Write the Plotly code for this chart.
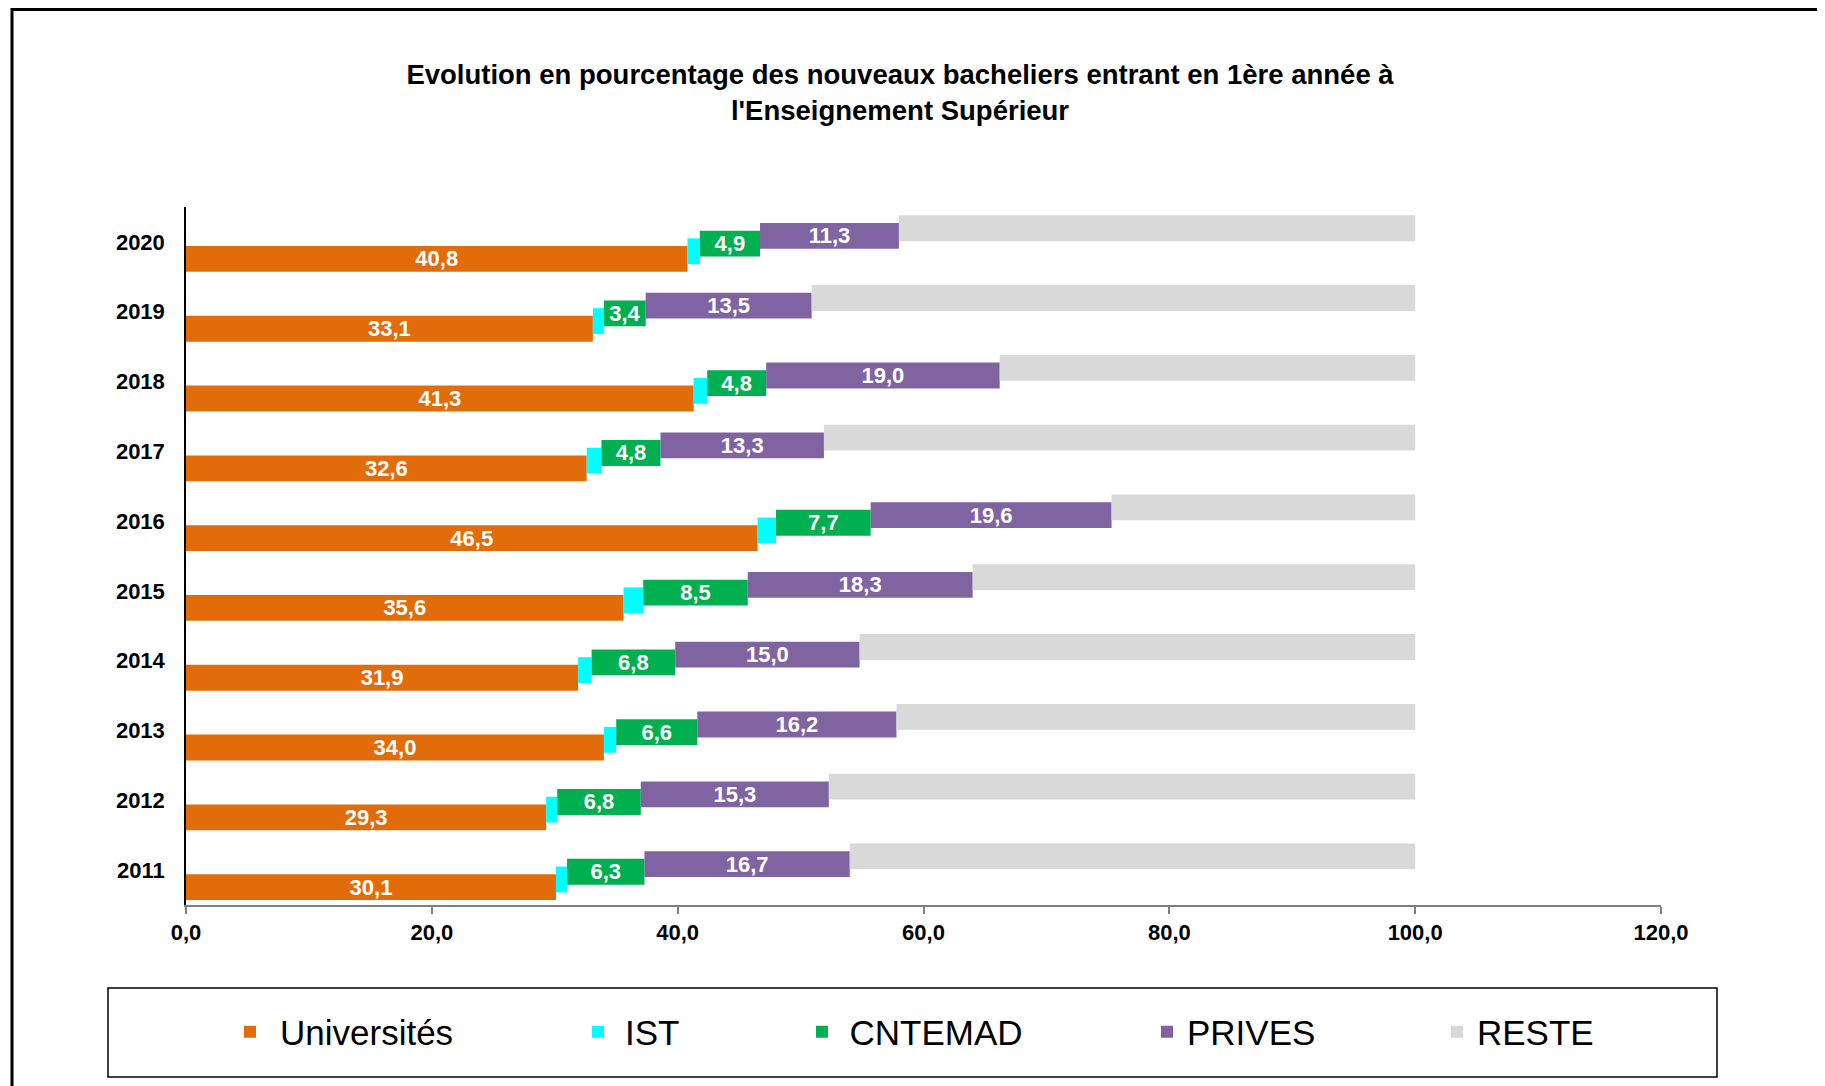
import plotly.graph_objects as go

# ---------------- data ----------------
years = ["2011", "2012", "2013", "2014", "2015", "2016", "2017", "2018", "2019", "2020"]
universites = [30.1, 29.3, 34.0, 31.9, 35.6, 46.5, 32.6, 41.3, 33.1, 40.8]
ist = [0.9, 0.9, 1.0, 1.1, 1.6, 1.5, 1.2, 1.1, 0.9, 1.0]
cntemad = [6.3, 6.8, 6.6, 6.8, 8.5, 7.7, 4.8, 4.8, 3.4, 4.9]
prives = [16.7, 15.3, 16.2, 15.0, 18.3, 19.6, 13.3, 19.0, 13.5, 11.3]
reste = [46.0, 47.7, 42.2, 45.2, 36.0, 24.7, 48.1, 33.8, 49.1, 42.0]
x_ticks = [0, 20, 40, 60, 80, 100, 120]

series_names = ["Universités", "IST", "CNTEMAD", "PRIVES", "RESTE"]
series_values = [universites, ist, cntemad, prives, reste]
series_colors = ["#E36C0A", "#00FFFF", "#00B050", "#8064A2", "#D9D9D9"]
series_labelled = [True, False, True, True, False]

# ---------------- layout geometry (page pixels) ----------------
W, H = 1825, 1086
OFF = 8  # default page body margin
L, R, T, B = 186, 1661, 207, 905
FW, FH = W - OFF, H - OFF


def px_x(px):
    return (px - L) / (R - L)


def px_y(py):
    return (B - py) / (B - T)


FONT = "Liberation Sans, Arial, sans-serif"

bar_w = 0.37
centers = [-0.244, -0.134, -0.024, 0.086, 0.196]
legend_marker_px = [250, 598, 822, 1167, 1457]
legend_itemwidth = [50, 44, 45, 30, 30]

fig = go.Figure()
cum = [0.0] * len(years)
for i, (name, vals, col, lab) in enumerate(zip(series_names, series_values, series_colors, series_labelled)):
    base = list(cum)
    text = [f"{v:.1f}".replace(".", ",") for v in vals] if lab else None
    lg = "legend" if i == 0 else f"legend{i + 1}"
    fig.add_trace(go.Bar(
        y=years, x=vals, base=base, orientation="h", name=name,
        marker=dict(color=col, line=dict(width=0)),
        width=bar_w, offset=centers[i] - bar_w / 2,
        text=text, textposition="inside" if lab else "none",
        insidetextanchor="middle", constraintext="none",
        textfont=dict(family=FONT, size=22, color="white", weight="bold"),
        legend=lg,
    ))
    cum = [c + v for c, v in zip(cum, vals)]

layout_legends = {}
for i, (mx, iw) in enumerate(zip(legend_marker_px, legend_itemwidth)):
    key = "legend" if i == 0 else f"legend{i + 1}"
    layout_legends[key] = dict(
        x=px_x(mx - 20 - (iw - 30) / 2), y=px_y(1032), xanchor="left", yanchor="middle",
        orientation="h", bgcolor="rgba(0,0,0,0)", borderwidth=0, itemwidth=iw,
        font=dict(family=FONT, size=35, color="black"),
    )

fig.update_layout(
    width=FW, height=FH,
    margin=dict(l=L - OFF, r=W - R, t=T - OFF, b=H - B),
    paper_bgcolor="white", plot_bgcolor="white",
    barmode="overlay",
    separators=", ",
    title=dict(
        text="Evolution en pourcentage des nouveaux bacheliers entrant en 1ère année à<br>l'Enseignement Supérieur",
        x=px_x(900), xref="paper", xanchor="center",
        y=1 - (84 - OFF) / FH, yref="container", yanchor="middle",
        font=dict(family=FONT, size=27.5, color="black", weight="bold"),
    ),
    xaxis=dict(
        range=[0, 120], tickvals=x_ticks, tickformat=".1f",
        showgrid=False, zeroline=False,
        showline=True, linecolor="#7F7F7F", linewidth=1.5,
        ticks="outside", ticklen=7, tickcolor="#7F7F7F", tickwidth=1.5,
        tickfont=dict(family=FONT, size=22, color="black", weight="bold"),
        ticklabelstandoff=0,
    ),
    yaxis=dict(
        type="category", categoryorder="array", categoryarray=years,
        range=[-0.5, 9.5],
        showgrid=False, zeroline=False,
        showline=True, linecolor="black", linewidth=1.5,
        ticks="", ticklabelstandoff=15,
        tickfont=dict(family=FONT, size=22, color="black", weight="bold"),
    ),
    showlegend=True,
    shapes=[
        # legend box
        dict(type="rect", xref="paper", yref="paper",
             x0=px_x(108), x1=px_x(1717), y0=px_y(1077), y1=px_y(988),
             line=dict(color="black", width=1.5), fillcolor="rgba(0,0,0,0)", layer="below"),
        # outer frame
        dict(type="rect", xref="paper", yref="paper",
             x0=px_x(12), x1=px_x(1845), y0=px_y(1110), y1=px_y(9.5),
             line=dict(color="black", width=3), fillcolor="rgba(0,0,0,0)", layer="below"),
    ],
    **layout_legends,
)

fig.write_html("out.html")
